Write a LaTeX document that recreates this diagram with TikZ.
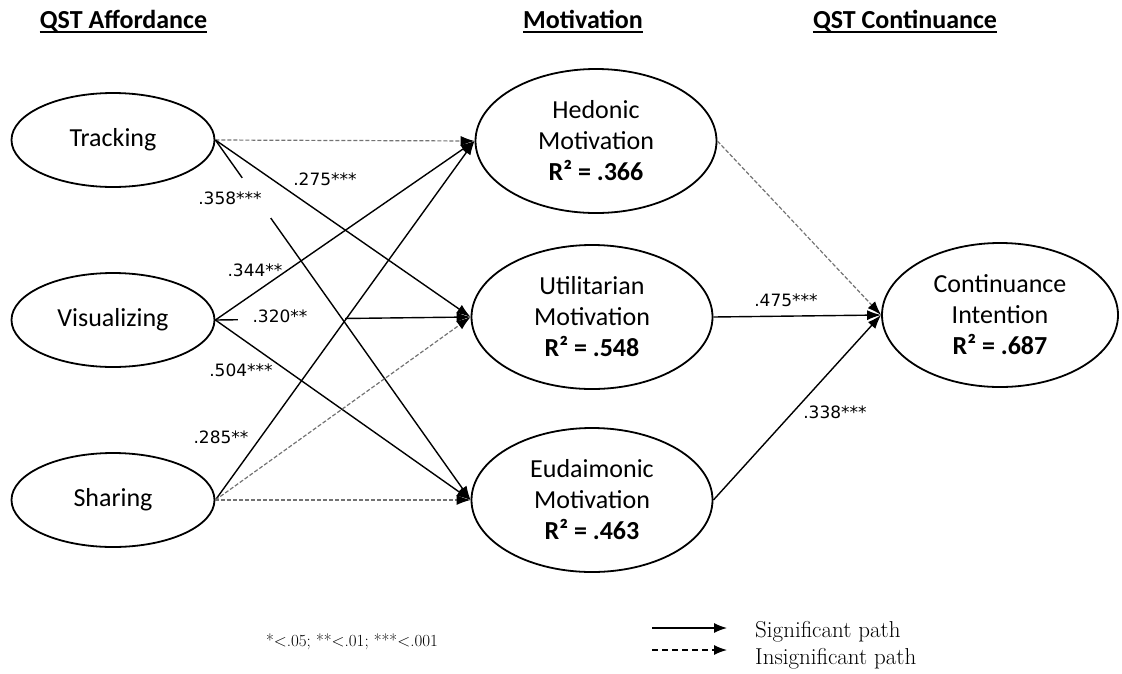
\documentclass[tikz,border=0pt]{standalone}
\usepackage{fontspec}
\setmainfont{Latin Modern Roman}
\newfontfamily\calfont{Carlito}
\newfontfamily\dvfont{DejaVu Sans}
\usetikzlibrary{shapes.geometric,arrows.meta}
\begin{document}
\begin{tikzpicture}[x=1pt,y=-1pt,
  ellbase/.style={ellipse, draw, line width=1.8pt, inner sep=0pt, align=center,
    font=\calfont\fontsize{26}{31}\selectfont},
  leftell/.style={ellbase, minimum width=203pt, minimum height=94pt},
  midell/.style={ellbase, minimum width=241pt, minimum height=144pt},
  hdr/.style={font=\calfont\bfseries\fontsize{26}{31}\selectfont, inner sep=0pt},
  ulin/.style={line width=2.6pt},
  sig/.style={line width=1.4pt, -{Latex[length=14pt,width=10pt]}},
  ins/.style={line width=1.2pt, black!55, dash pattern=on 4pt off 2pt,
    -{Latex[length=14pt,width=10pt,fill=black,color=black]}},
  gapbox/.style={fill=white, inner sep=0pt, minimum height=6pt},
  coef/.style={font=\dvfont\fontsize{17}{20}\selectfont, inner sep=1pt},
  legsig/.style={line width=1.3pt, -{Latex[length=13pt,width=10pt]}},
  legins/.style={line width=1.3pt, dash pattern=on 6pt off 4pt, -{Latex[length=13pt,width=10pt]}},
  legtext/.style={font=\fontsize{23}{27}\selectfont, inner sep=0pt, anchor=west},
]
\useasboundingbox (0,0) rectangle (1122,673);

% headers
\node[hdr, anchor=base] (h1) at (123.5,28) {QST Affordance};
\draw[ulin] ([yshift=-4pt]h1.base west) -- ([yshift=-4pt]h1.base east);
\node[hdr, anchor=base] (h2) at (583,28) {Motivation};
\draw[ulin] ([yshift=-4pt]h2.base west) -- ([yshift=-4pt]h2.base east);
\node[hdr, anchor=base] (h3) at (905,28) {QST Continuance};
\draw[ulin] ([yshift=-4pt]h3.base west) -- ([yshift=-4pt]h3.base east);

% ellipses
\node[leftell] (track) at (113,140) {Tracking};
\node[leftell] (vis) at (113,320) {Visualizing};
\node[leftell] (share) at (113,500) {Sharing};
\node[midell] (hed) at (596,141) {Hedonic\\Motivation\\\textbf{R² = .366}};
\node[midell] (util) at (592,317) {Utilitarian\\Motivation\\\textbf{R² = .548}};
\node[midell] (eud) at (592,500) {Eudaimonic\\Motivation\\\textbf{R² = .463}};
\node[midell, minimum width=236pt] (cont) at (1000,315) {Continuance\\Intention\\\textbf{R² = .687}};

% paths with gaps
\draw[sig] (vis.east) -- (util.west);
\path (vis.east) -- (util.west) node[gapbox, pos=0.298, minimum width=107pt] (gapA) {};
\draw[sig] (track.east) -- (eud.west);
\path (track.east) -- (eud.west) node[gapbox, sloped, pos=0.161, minimum width=49pt] (gapB) {};

% other paths
\draw[ins] (track.east) -- (hed.west);
\draw[sig] (track.east) -- (util.west);
\draw[sig] (vis.east) -- (hed.west);
\draw[sig] (vis.east) -- (eud.west);
\draw[sig] (share.east) -- (hed.west);
\draw[ins] (share.east) -- (util.west);
\draw[ins] (share.east) -- (eud.west);
\draw[ins] (hed.east) -- (cont.west);
\draw[sig] (util.east) -- (cont.west);
\draw[sig] (eud.east) -- (cont.west);

% coefficients
\node[coef] (l275) at (325,179) {.275***};
\node[coef] (l358) at (230,198) {.358***};
\node[coef] (l344) at (255,270) {.344**};
\node[coef] (l320) at (280,316) {.320**};
\node[coef] (l504) at (241,370) {.504***};
\node[coef] (l285) at (221,437) {.285**};
\node[coef] (l475) at (786,300) {.475***};
\node[coef] (l338) at (835,412) {.338***};

% legend
\node[font=\fontsize{17}{20}\selectfont, inner sep=0pt] (stars) at (352,642) {*<.05; **<.01; ***<.001};
\coordinate (s1) at (652,628);
\coordinate (s2) at (727,628);
\draw[legsig] (s1) -- (s2);
\coordinate (d1) at (652,650);
\coordinate (d2) at (727,650);
\draw[legins] (d1) -- (d2);
\node[legtext] (lsig) at (755,632) {Significant path};
\node[legtext] (lins) at (755,659) {Insignificant path};
\end{tikzpicture}
\end{document}
